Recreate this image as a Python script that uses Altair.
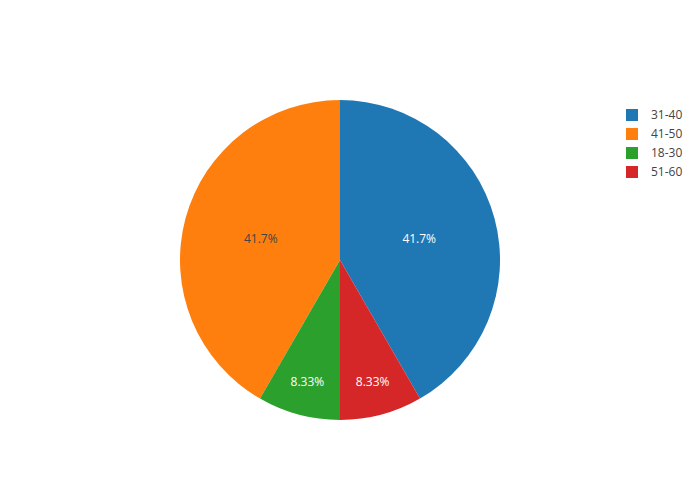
import altair as alt
import pandas as pd

ages = ["31-40", "41-50", "18-30", "51-60"]
counts = [5, 5, 1, 1]
slice_order = [0, 3, 2, 1]
colors = ["#1f77b4", "#ff7f0e", "#2ca02c", "#d62728"]

df = pd.DataFrame({"age": ages, "count": counts, "ord": slice_order})

cx, cy = 332, 252

pie = alt.Chart(df).mark_arc(outerRadius=160).encode(
    theta=alt.Theta("count:Q", stack=True),
    order=alt.Order("ord:Q"),
    color=alt.Color(
        "age:N",
        scale=alt.Scale(domain=ages, range=colors),
        legend=alt.Legend(
            title=None,
            orient="none",
            legendX=618,
            legendY=101,
            symbolType="square",
            symbolSize=144,
            symbolStrokeWidth=0,
            symbolOpacity=1,
            labelFont="Open Sans",
            labelFontSize=12,
            labelColor="#444",
            labelOffset=13,
            rowPadding=7,
        ),
    ),
    x=alt.value(cx),
    y=alt.value(cy),
)

text = alt.Chart(df).transform_joinaggregate(
    total="sum(count)"
).transform_window(
    cum="sum(count)", sort=[alt.SortField("ord", order="ascending")], frame=[None, 0]
).transform_calculate(
    label="format(datum.count / datum.total * 100, '.3r') + '%'",
    r="datum.count / datum.total > 0.2 ? 82 : 126",
    ang="(datum.cum - datum.count / 2) / datum.total * 2 * PI",
).mark_text(font="Open Sans", fontSize=12, baseline="middle", align="center").encode(
    theta=alt.Theta("ang:Q", scale=None),
    radius=alt.Radius("r:Q", scale=None),
    text="label:N",
    color=alt.condition(alt.datum.age == "41-50", alt.value("#444"), alt.value("white")),
    x=alt.value(cx),
    y=alt.value(cy),
)

chart = alt.layer(pie, text).properties(
    width=684, height=484, padding=0, autosize=alt.AutoSizeParams(type="none")
).configure_view(stroke="transparent", strokeWidth=0)

chart.save("out.html", embed_options={"renderer": "svg", "actions": False})
